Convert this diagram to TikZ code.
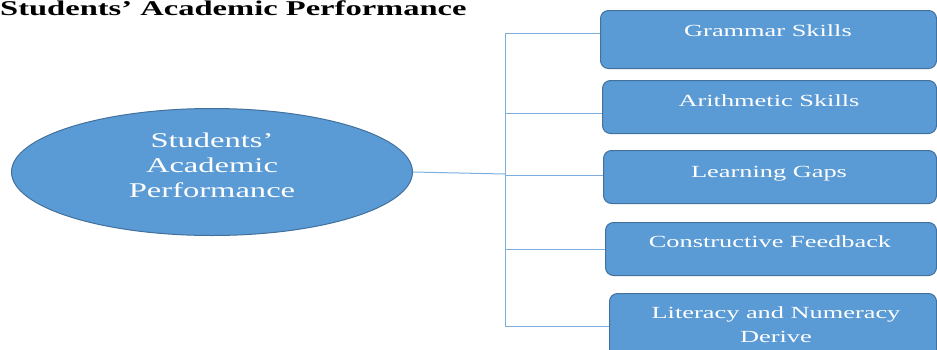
\documentclass[tikz,border=0pt]{standalone}
\usepackage{fontspec}
\setmainfont{Liberation Serif}
\usetikzlibrary{shapes.geometric}
\definecolor{boxfill}{HTML}{5B9BD5}
\definecolor{boxline}{HTML}{41719C}
\definecolor{conn}{HTML}{7DAEE0}
\newcommand{\sx}[1]{\scalebox{1.55}[1]{#1}}
\tikzset{
  itembox/.style={draw=boxline, line width=1pt, fill=boxfill, rounded corners=8pt, inner sep=0pt, anchor=north west},
  itemtext/.style={text=white, font=\fontsize{17}{24}\selectfont, inner sep=0pt, anchor=base},
  ovaltext/.style={text=white, font=\fontsize{21}{25}\selectfont, inner sep=0pt, anchor=base},
  connline/.style={draw=conn, line width=1pt},
}
\begin{document}
\begin{tikzpicture}[x=1pt,y=-1pt]
\useasboundingbox (0,0) rectangle (937,349);
\clip (0,0) rectangle (937,349);
% title
\node[anchor=base west, inner sep=0pt, font=\fontsize{21}{25}\bfseries\selectfont] (title) at (0,15) {\sx{Students’ Academic Performance}};
% ellipse
\node[ellipse, draw=boxline, line width=1pt, fill=boxfill, minimum width=401pt, minimum height=127pt, inner sep=0pt] (e) at (212,172) {};
\node[ovaltext] (et1) at (212,147) {\sx{Students’}};
\node[ovaltext] (et2) at (212,172) {\sx{Academic}};
\node[ovaltext] (et3) at (212,197) {\sx{Performance}};
% boxes
\node[itembox, minimum width=336pt, minimum height=58pt] (b1) at (600,10) {};
\node[itembox, minimum width=334pt, minimum height=53pt] (b2) at (602,80) {};
\node[itembox, minimum width=333pt, minimum height=53pt] (b3) at (603,150) {};
\node[itembox, minimum width=331pt, minimum height=53pt] (b4) at (605,222) {};
\node[itembox, minimum width=327pt, minimum height=70pt] (b5) at (609,293) {};
\node[itemtext] (t1) at (768,36) {\sx{Grammar Skills}};
\node[itemtext] (t2) at (769,106) {\sx{Arithmetic Skills}};
\node[itemtext] (t3) at (769,177) {\sx{Learning Gaps}};
\node[itemtext] (t4) at (770,247) {\sx{Constructive Feedback}};
\node[itemtext] (t5a) at (776,318) {\sx{Literacy and Numeracy}};
\node[itemtext] (t5b) at (776,342) {\sx{Derive}};
% connectors
\coordinate (j0) at (505,174);
\coordinate (j1) at (505,33);
\coordinate (j2) at (505,113);
\coordinate (j3) at (505,175);
\coordinate (j4) at (505,249);
\coordinate (j5) at (505,326);
\draw[connline] (e.east) -- (j0);
\draw[connline] (j1) -- (j5);
\draw[connline] (j1) -- (j1 -| b1.west);
\draw[connline] (j2) -- (j2 -| b2.west);
\draw[connline] (j3) -- (j3 -| b3.west);
\draw[connline] (j4) -- (j4 -| b4.west);
\draw[connline] (j5) -- (j5 -| b5.west);
\end{tikzpicture}
\end{document}
